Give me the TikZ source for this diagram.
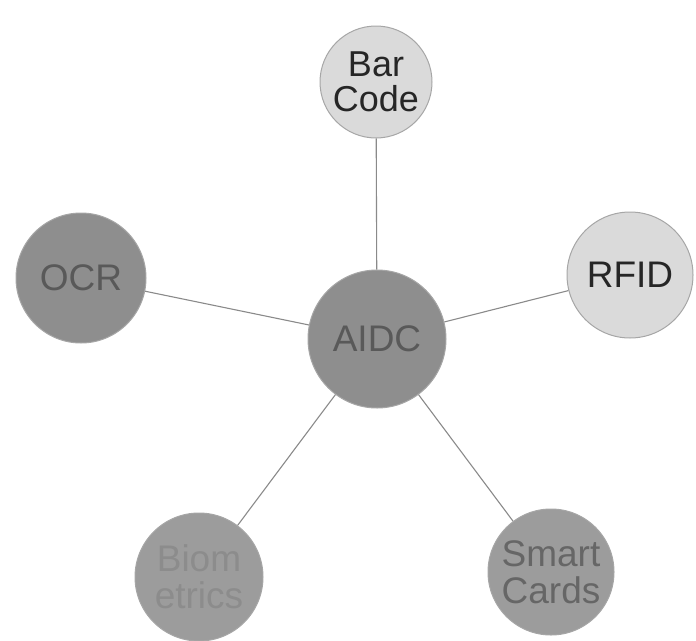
\documentclass[tikz,border=0pt]{standalone}
\usepackage{fontspec}
\setmainfont{Liberation Sans}
\usepackage{xcolor}
\usetikzlibrary{positioning}
\definecolor{lightdot}{HTML}{DADADA}
\definecolor{darkdot}{HTML}{8E8E8E}
\definecolor{middot}{HTML}{9C9C9C}
\definecolor{linkgray}{HTML}{8A8A8A}

\begin{document}
\begin{tikzpicture}[
    x=1pt, y=-1pt,
    dot/.style={circle, draw=gray!70, line width=1pt, inner sep=0pt, align=center, font=\fontsize{37}{37}\selectfont},
    light/.style={dot, fill=lightdot, text=black!85},
    dark/.style={dot, fill=darkdot, text=black!65},
    mid/.style={dot, fill=middot, text=black!60},
    link/.style={draw=linkgray, line width=1.1pt}
]
\useasboundingbox (0,0) rectangle (696,640);

% Centre
\node[dark, minimum size=138pt] (aidc) at (377,339) {AIDC};

% Outer technologies
\node[light, minimum size=112pt, font=\fontsize{36}{35}\selectfont] (bar) at (376,82) {Bar\\Code};
\node[light, minimum size=126pt] (rfid) at (630,275) {RFID};
\node[dark, minimum size=130pt] (ocr) at (81,278) {OCR};
\node[mid, minimum size=128pt, text=black!45] (bio) at (199,577) {Biom\\etrics};
\node[mid, minimum size=126pt] (smart) at (551,572) {Smart\\Cards};

% Links
\draw[link] (aidc) -- (bar);
\draw[link] (aidc) -- (rfid);
\draw[link] (aidc) -- (ocr);
\draw[link] (aidc) -- (bio);
\draw[link] (aidc) -- (smart);

\end{tikzpicture}
\end{document}
